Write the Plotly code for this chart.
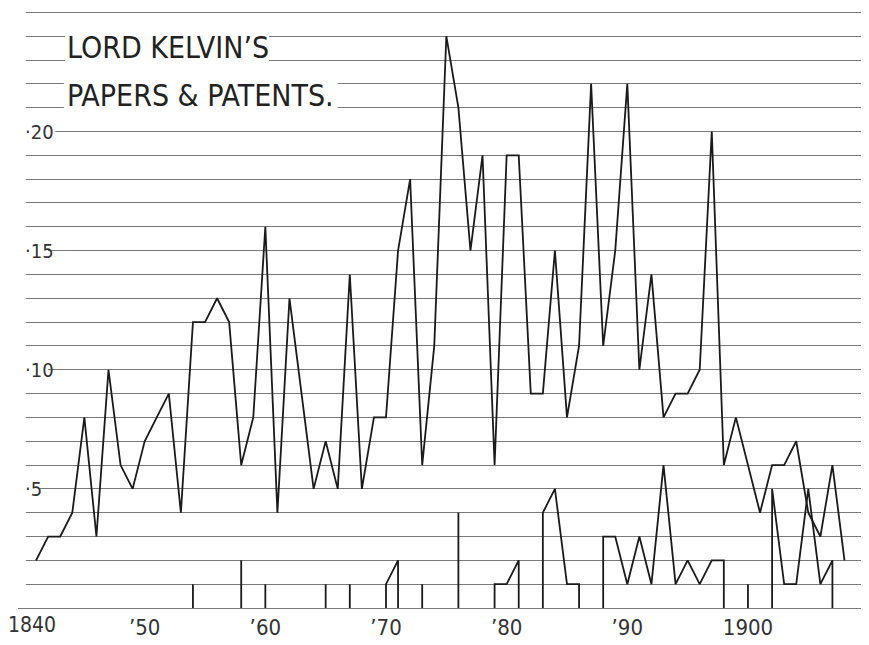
import plotly.graph_objects as go

# ---- data ----
paper_years = list(range(1841, 1909))
papers = [2, 3, 3, 4, 8, 3, 10, 6, 5, 7,
          8, 9, 4, 12, 12, 13, 12, 6, 8, 16,
          4, 13, 9, 5, 7, 5, 14, 5, 8, 8,
          15, 18, 6, 11, 24, 21, 15, 19, 6, 19,
          19, 9, 9, 15, 8, 11, 22, 11, 15, 22,
          10, 14, 8, 9, 9, 10, 20, 6, 8, 6,
          4, 6, 6, 7, 4, 3, 6, 2]

patent_years = list(range(1854, 1908))
patents = [1, 0, 0, 0, 2, 0, 1, 0, 0, 0,
           0, 1, 0, 1, 0, 0, 1, 2, 0, 1,
           0, 0, 4, 0, 0, 1, 1, 2, 0, 4,
           5, 1, 1, 0, 3, 3, 1, 3, 1, 6,
           1, 2, 1, 2, 2, 0, 1, 0, 5, 1,
           1, 5, 1, 2]

tick_years = [1850, 1860, 1870, 1880, 1890, 1900]
tick_text = ["\u201950", "\u201960", "\u201970", "\u201980", "\u201990", "1900"]
first_tick_year = 1840
first_tick_text = "1840"
ylabel_vals = [5, 10, 15, 20]
title_lines = ["LORD KELVIN\u2019S", "PAPERS & PATENTS."]

# ---- build patent path: runs of non-zero years rise from / drop to the baseline ----
px, py = [], []
run = []
for yr, v in zip(patent_years + [None], patents + [0]):
    if v:
        run.append((yr, v))
    elif run:
        px += [run[0][0]] + [r[0] for r in run] + [run[-1][0], None]
        py += [0] + [r[1] for r in run] + [0, None]
        run = []

INK = "#1a1a1a"
RULE = "#7a7a7a"
NARROW = "Liberation Sans Narrow, DejaVu Sans Condensed, Liberation Sans, sans-serif"

fig = go.Figure()
fig.add_trace(go.Scatter(x=paper_years, y=papers, mode="lines",
                         line=dict(color=INK, width=1.8), name="Papers",
                         hoverinfo="x+y"))
fig.add_trace(go.Scatter(x=px, y=py, mode="lines", connectgaps=False,
                         line=dict(color=INK, width=1.8), name="Patents",
                         hoverinfo="x+y"))

shapes = []
# rules start at 1840
shapes.append(dict(type="rect", xref="x", yref="y", x0=1839.4, x1=1840.15, y0=0.5, y1=25.2,
                   fillcolor="white", line=dict(width=0), layer="between"))
# white masks that interrupt the ruled lines behind the lettering
shapes.append(dict(type="rect", xref="x", yref="y", x0=1843.4, x1=1860.3, y0=22.8, y1=24.2,
                   fillcolor="white", line=dict(width=0), layer="between"))
shapes.append(dict(type="rect", xref="x", yref="y", x0=1843.3, x1=1866.0, y0=20.8, y1=22.2,
                   fillcolor="white", line=dict(width=0), layer="between"))
mask_right = {5: 1841.3, 10: 1842.0, 15: 1842.0, 20: 1842.6}
for v in ylabel_vals:
    shapes.append(dict(type="rect", xref="x", yref="y", x0=1839.4, x1=mask_right[v],
                       y0=v - 0.3, y1=v + 0.3, fillcolor="white", line=dict(width=0),
                       layer="between"))

annotations = []
for i, line in enumerate(title_lines):
    annotations.append(dict(text=line, x=1843.4, y=23 - 2 * i, xref="x", yref="y",
                            xanchor="left", yanchor="bottom", yshift=-7, showarrow=False,
                            font=dict(family=NARROW, size=30, color="#222")))
for v in ylabel_vals:
    annotations.append(dict(text="\u00b7" + str(v), x=1839.95, y=v, xref="x", yref="y",
                            xanchor="left", yanchor="middle", showarrow=False,
                            font=dict(family=NARROW, size=20, color="#333")))
# first year label sits at the left edge of the page
annotations.append(dict(text=first_tick_text, x=first_tick_year, y=0, xref="x", yref="y",
                        xanchor="left", yanchor="top", xshift=-18, yshift=-3, showarrow=False,
                        font=dict(family=NARROW, size=21, color="#333")))

fig.update_layout(
    width=869, height=645,
    margin=dict(l=10, r=12, t=2, b=45),
    paper_bgcolor="white", plot_bgcolor="white",
    showlegend=False,
    shapes=shapes, annotations=annotations,
    xaxis=dict(range=[1839.5, 1909.7], showgrid=False, zeroline=False,
               showline=True, linecolor=RULE, linewidth=1,
               tickmode="array", tickvals=tick_years, ticktext=tick_text, ticks="",
               ticklabeloverflow="allow",
               tickfont=dict(family=NARROW, size=22, color="#333")),
    yaxis=dict(range=[0, 25.1], dtick=1, showgrid=True, gridcolor=RULE, gridwidth=1,
               zeroline=False, showline=False, showticklabels=False, ticks=""),
)

fig.write_html("out.html")
